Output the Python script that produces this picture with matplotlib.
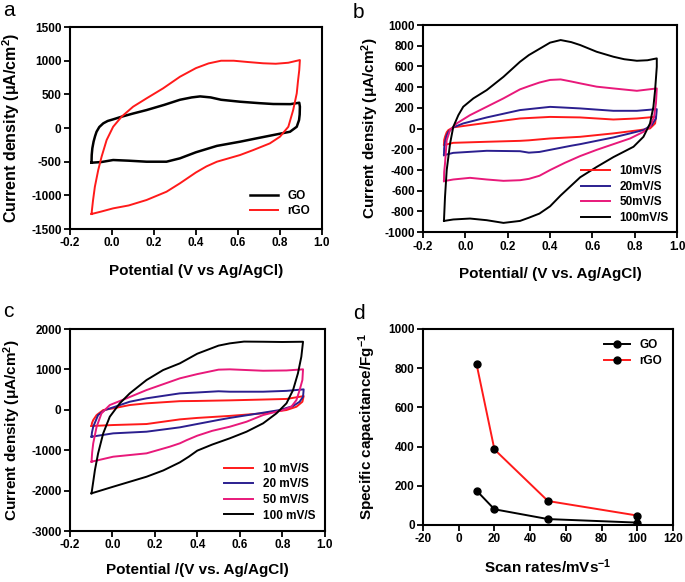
import matplotlib
matplotlib.use("Agg")
import matplotlib.pyplot as plt

plt.rcParams['font.family'] = ['Liberation Sans', 'DejaVu Sans']
plt.rcParams['font.weight'] = 'bold'
plt.rcParams['axes.unicode_minus'] = False
plt.rcParams['mathtext.fontset'] = 'custom'
plt.rcParams['mathtext.rm'] = 'Liberation Sans:bold'
plt.rcParams['mathtext.bf'] = 'Liberation Sans:bold'
plt.rcParams['mathtext.default'] = 'bf'

# CV loops are (potential V, current density uA/cm2) pairs, forward scan then reverse scan

# ---- panel a: GO vs rGO
a_go = [(-0.097, -515), (-0.096, -400), (-0.093, -300), (-0.087, -200), (-0.08, -120),
        (-0.073, -55), (-0.06, 15), (-0.041, 70), (-0.02, 105), (0.006, 129), (0.046, 168),
        (0.1, 215), (0.165, 267), (0.25, 345), (0.324, 420), (0.38, 455), (0.42, 470),
        (0.47, 455), (0.52, 420), (0.61, 391), (0.7, 370), (0.768, 357), (0.85, 355),
        (0.892, 376), (0.895, 317), (0.894, 200), (0.891, 119), (0.88, 19), (0.848, -55),
        (0.768, -104), (0.689, -153), (0.61, -203), (0.5, -265), (0.4, -360), (0.324, -450),
        (0.26, -500), (0.165, -500), (0.08, -485), (0.006, -475), (-0.05, -505), (-0.097, -515)]
a_rgo = [(-0.097, -1277), (-0.09, -1080), (-0.081, -872), (-0.065, -624), (-0.049, -426),
         (-0.025, -178), (0.006, 19), (0.046, 168), (0.101, 317), (0.165, 441), (0.244, 590),
         (0.324, 762), (0.4, 890), (0.46, 960), (0.52, 1000), (0.58, 1000), (0.65, 980),
         (0.72, 962), (0.78, 955), (0.84, 970), (0.895, 1010), (0.892, 861), (0.886, 700),
         (0.88, 515), (0.863, 267), (0.84, 19), (0.8, -129), (0.752, -228), (0.673, -327),
         (0.61, -401), (0.5, -500), (0.45, -570), (0.4, -660), (0.324, -821), (0.26, -946),
         (0.165, -1069), (0.08, -1150), (0.006, -1193), (-0.05, -1240), (-0.097, -1277)]

# ---- panel b: rGO at four scan rates
b_labels = ['10mV/S', '20mV/S', '50mV/S', '100mV/S']
b_10 = [(-0.101, -159), (-0.1, -110), (-0.096, -79), (-0.088, -35), (-0.08, -14), (-0.057, 12),
        (0.022, 34), (0.101, 56), (0.258, 98), (0.4, 113), (0.542, 108), (0.699, 88),
        (0.81, 98), (0.9, 114), (0.896, 50), (0.872, 2), (0.825, -14), (0.699, -46),
        (0.542, -79), (0.4, -95), (0.3, -113), (0.258, -118), (0.101, -127), (-0.057, -137),
        (-0.101, -159)]
b_20 = [(-0.101, -256), (-0.1, -190), (-0.096, -127), (-0.088, -65), (-0.08, -31), (-0.057, 12),
        (-0.01, 50), (0.101, 108), (0.258, 179), (0.4, 210), (0.45, 205), (0.542, 195),
        (0.699, 172), (0.81, 172), (0.904, 188), (0.9, 98), (0.88, 34), (0.841, -14),
        (0.778, -46), (0.699, -85), (0.542, -150), (0.5, -165), (0.4, -205), (0.35, -225),
        (0.3, -232), (0.258, -218), (0.101, -214), (-0.057, -234), (-0.101, -256)]
b_50 = [(-0.101, -507), (-0.1, -420), (-0.096, -336), (-0.088, -111), (-0.072, -14), (-0.041, 50),
        (0.022, 130), (0.101, 211), (0.18, 292), (0.258, 379), (0.3, 410), (0.35, 445),
        (0.4, 470), (0.45, 475), (0.5, 455), (0.542, 437), (0.62, 405), (0.699, 388),
        (0.81, 365), (0.904, 388), (0.9, 243), (0.891, 114), (0.872, 17), (0.841, -31),
        (0.778, -95), (0.699, -150), (0.62, -205), (0.542, -265), (0.47, -330), (0.4, -400),
        (0.35, -455), (0.3, -485), (0.258, -498), (0.18, -504), (0.101, -491), (0.022, -475),
        (-0.057, -491), (-0.101, -507)]
b_100 = [(-0.101, -891), (-0.096, -659), (-0.088, -401), (-0.072, -143), (-0.057, 17),
         (-0.033, 130), (-0.01, 211), (0.038, 292), (0.101, 372), (0.18, 500), (0.258, 645),
         (0.3, 710), (0.35, 770), (0.4, 830), (0.45, 855), (0.5, 835), (0.542, 807),
         (0.62, 742), (0.699, 694), (0.75, 670), (0.81, 655), (0.86, 660), (0.904, 678),
         (0.904, 597), (0.896, 372), (0.888, 211), (0.872, 50), (0.841, -79), (0.794, -175),
         (0.699, -275), (0.62, -370), (0.542, -470), (0.5, -550), (0.45, -645), (0.4, -750),
         (0.35, -820), (0.3, -860), (0.258, -891), (0.18, -910), (0.101, -884), (0.022, -868),
         (-0.057, -877), (-0.101, -891)]

# ---- panel c: another set of scan rates
c_labels = ['10 mV/S', '20 mV/S', '50 mV/S', '100 mV/S']
c_10 = [(-0.098, -400), (-0.096, -330), (-0.09, -252), (-0.074, -129), (-0.043, -5), (0.004, 37),
        (0.082, 119), (0.161, 161), (0.318, 215), (0.4, 220), (0.553, 235), (0.71, 255),
        (0.82, 270), (0.901, 340), (0.895, 201), (0.867, 77), (0.82, -5), (0.71, -86),
        (0.553, -150), (0.4, -200), (0.318, -236), (0.161, -351), (0.004, -376), (-0.098, -400)]
c_20 = [(-0.098, -665), (-0.096, -560), (-0.09, -418), (-0.067, -129), (-0.035, -5), (0.004, 62),
        (0.082, 201), (0.161, 285), (0.318, 408), (0.4, 430), (0.5, 460), (0.553, 449),
        (0.71, 449), (0.82, 470), (0.901, 507), (0.898, 324), (0.882, 201), (0.851, 94),
        (0.788, -5), (0.71, -71), (0.553, -200), (0.5, -250), (0.4, -350), (0.318, -433),
        (0.161, -541), (0.004, -582), (-0.098, -665)]
c_50 = [(-0.098, -1284), (-0.095, -1050), (-0.09, -829), (-0.074, -418), (-0.051, -86),
        (-0.012, 119), (0.067, 285), (0.161, 490), (0.318, 780), (0.4, 885), (0.5, 995),
        (0.553, 1003), (0.71, 968), (0.82, 975), (0.898, 1003), (0.895, 738), (0.882, 490),
        (0.867, 243), (0.843, 77), (0.804, -5), (0.71, -129), (0.632, -294), (0.553, -418),
        (0.47, -520), (0.4, -640), (0.35, -750), (0.318, -829), (0.27, -913), (0.161, -1077),
        (0.004, -1160), (-0.098, -1284)]
c_100 = [(-0.098, -2067), (-0.09, -1780), (-0.082, -1490), (-0.067, -1077), (-0.043, -582),
         (-0.012, -170), (0.035, 161), (0.082, 408), (0.161, 738), (0.239, 985), (0.318, 1151),
         (0.4, 1390), (0.5, 1590), (0.553, 1646), (0.62, 1690), (0.71, 1686), (0.8, 1680),
         (0.898, 1686), (0.89, 1315), (0.874, 904), (0.851, 490), (0.82, 161), (0.773, -86),
         (0.71, -334), (0.632, -541), (0.553, -705), (0.47, -860), (0.4, -1010), (0.36, -1160),
         (0.318, -1300), (0.24, -1500), (0.161, -1656), (0.004, -1903), (-0.098, -2067)]

# ---- panel d: specific capacitance vs scan rate
scan_rates = [10, 20, 50, 100]
cap_go = [175, 80, 30, 12]
cap_rgo = [820, 385, 122, 48]

RED = '#ff1a1a'
NAVY = '#2b1f8f'
PINK = '#e8197a'
BLACK = '#000000'
rate_colors = [RED, NAVY, PINK, BLACK]

fig = plt.figure(figsize=(6.85, 5.82), dpi=100)
ax_a = fig.add_axes([0.102, 0.6065, 0.368, 0.347])
ax_b = fig.add_axes([0.6175, 0.601, 0.371, 0.356])
ax_c = fig.add_axes([0.102, 0.0876, 0.372, 0.347])
ax_d = fig.add_axes([0.6175, 0.098, 0.365, 0.337])


def cv(ax, pts, **kw):
    v, j = zip(*pts)
    ax.plot(v, j, **kw)


def style(ax):
    for s in ax.spines.values():
        s.set_linewidth(1.5)
    ax.tick_params(direction='out', length=4, width=1.3, labelsize=8.5, pad=2)
    for lab in ax.get_xticklabels() + ax.get_yticklabels():
        lab.set_fontweight('bold')


legend_kw = dict(frameon=False, labelspacing=0.3, prop={'weight': 'bold', 'size': 8.5})

# a
cv(ax_a, a_go, color=BLACK, lw=1.8, label='GO')
cv(ax_a, a_rgo, color=RED, lw=1.4, label='rGO')
ax_a.set_xlim(-0.2, 1.0)
ax_a.set_ylim(-1500, 1500)
ax_a.set_xticks([-0.2, 0.0, 0.2, 0.4, 0.6, 0.8, 1.0])
ax_a.set_yticks(range(-1500, 1501, 500))
ax_a.set_xlabel('Potential (V vs Ag/AgCl)', fontsize=11, fontweight='bold')
ax_a.set_ylabel('Current density (μA/cm$^{2}$)', fontsize=11.5, fontweight='bold')
ax_a.yaxis.set_label_coords(-0.19, 0.5)
ax_a.xaxis.set_label_coords(0.5, -0.175)
ax_a.legend(loc='lower right', handlelength=2.4, borderaxespad=0.6, **legend_kw)
style(ax_a)

# b
for pts, lab, col in zip([b_10, b_20, b_50, b_100], b_labels, rate_colors):
    cv(ax_b, pts, color=col, lw=1.4, label=lab)
ax_b.set_xlim(-0.2, 1.0)
ax_b.set_ylim(-1000, 1000)
ax_b.set_xticks([-0.2, 0.0, 0.2, 0.4, 0.6, 0.8, 1.0])
ax_b.set_yticks(range(-1000, 1001, 200))
ax_b.set_xlabel('Potential/ (V vs. Ag/AgCl)', fontsize=11, fontweight='bold')
ax_b.set_ylabel('Current density (μA/cm$^{2}$)', fontsize=11, fontweight='bold')
ax_b.yaxis.set_label_coords(-0.165, 0.5)
ax_b.xaxis.set_label_coords(0.5, -0.17)
ax_b.legend(loc='lower right', handlelength=2.5, borderaxespad=0.3, **legend_kw)
style(ax_b)

# c
for pts, lab, col in zip([c_10, c_20, c_50, c_100], c_labels, rate_colors):
    cv(ax_c, pts, color=col, lw=1.4, label=lab)
ax_c.set_xlim(-0.2, 1.0)
ax_c.set_ylim(-3000, 2000)
ax_c.set_xticks([-0.2, 0.0, 0.2, 0.4, 0.6, 0.8, 1.0])
ax_c.set_yticks(range(-3000, 2001, 1000))
ax_c.set_xlabel('Potential /(V vs. Ag/AgCl)', fontsize=11, fontweight='bold')
ax_c.set_ylabel('Current density (μA/cm$^{2}$)', fontsize=11, fontweight='bold')
ax_c.yaxis.set_label_coords(-0.185, 0.5)
ax_c.xaxis.set_label_coords(0.5, -0.158)
ax_c.legend(loc='lower right', handlelength=2.5, borderaxespad=0.4, **legend_kw)
style(ax_c)

# d
ax_d.plot(scan_rates, cap_go, color=BLACK, lw=1.4, marker='o', ms=5, mfc=BLACK, mec=BLACK,
          label='GO')
ax_d.plot(scan_rates, cap_rgo, color=RED, lw=1.4, marker='o', ms=5, mfc=BLACK, mec=BLACK,
          label='rGO')
ax_d.set_xlim(-20, 120)
ax_d.set_ylim(0, 1000)
ax_d.set_xticks(range(-20, 121, 20))
ax_d.set_yticks(range(0, 1001, 200))
ax_d.set_xlabel('Scan rates/mVs$^{-1}$', fontsize=11, fontweight='bold')
ax_d.set_ylabel('Specific capacitance/Fg$^{-1}$', fontsize=11, fontweight='bold')
ax_d.yaxis.set_label_coords(-0.18, 0.5)
ax_d.xaxis.set_label_coords(0.5, -0.163)
ax_d.legend(loc='upper right', handlelength=2.2, borderaxespad=0.5, **legend_kw)
style(ax_d)

# panel letters
fig.text(0.004, 0.998, 'a', fontsize=15, fontweight='normal', va='top')
fig.text(0.515, 0.995, 'b', fontsize=15, fontweight='normal', va='top')
fig.text(0.004, 0.481, 'c', fontsize=15, fontweight='normal', va='top')
fig.text(0.515, 0.478, 'd', fontsize=15, fontweight='normal', va='top')

fig.savefig('out.png', dpi=100)
